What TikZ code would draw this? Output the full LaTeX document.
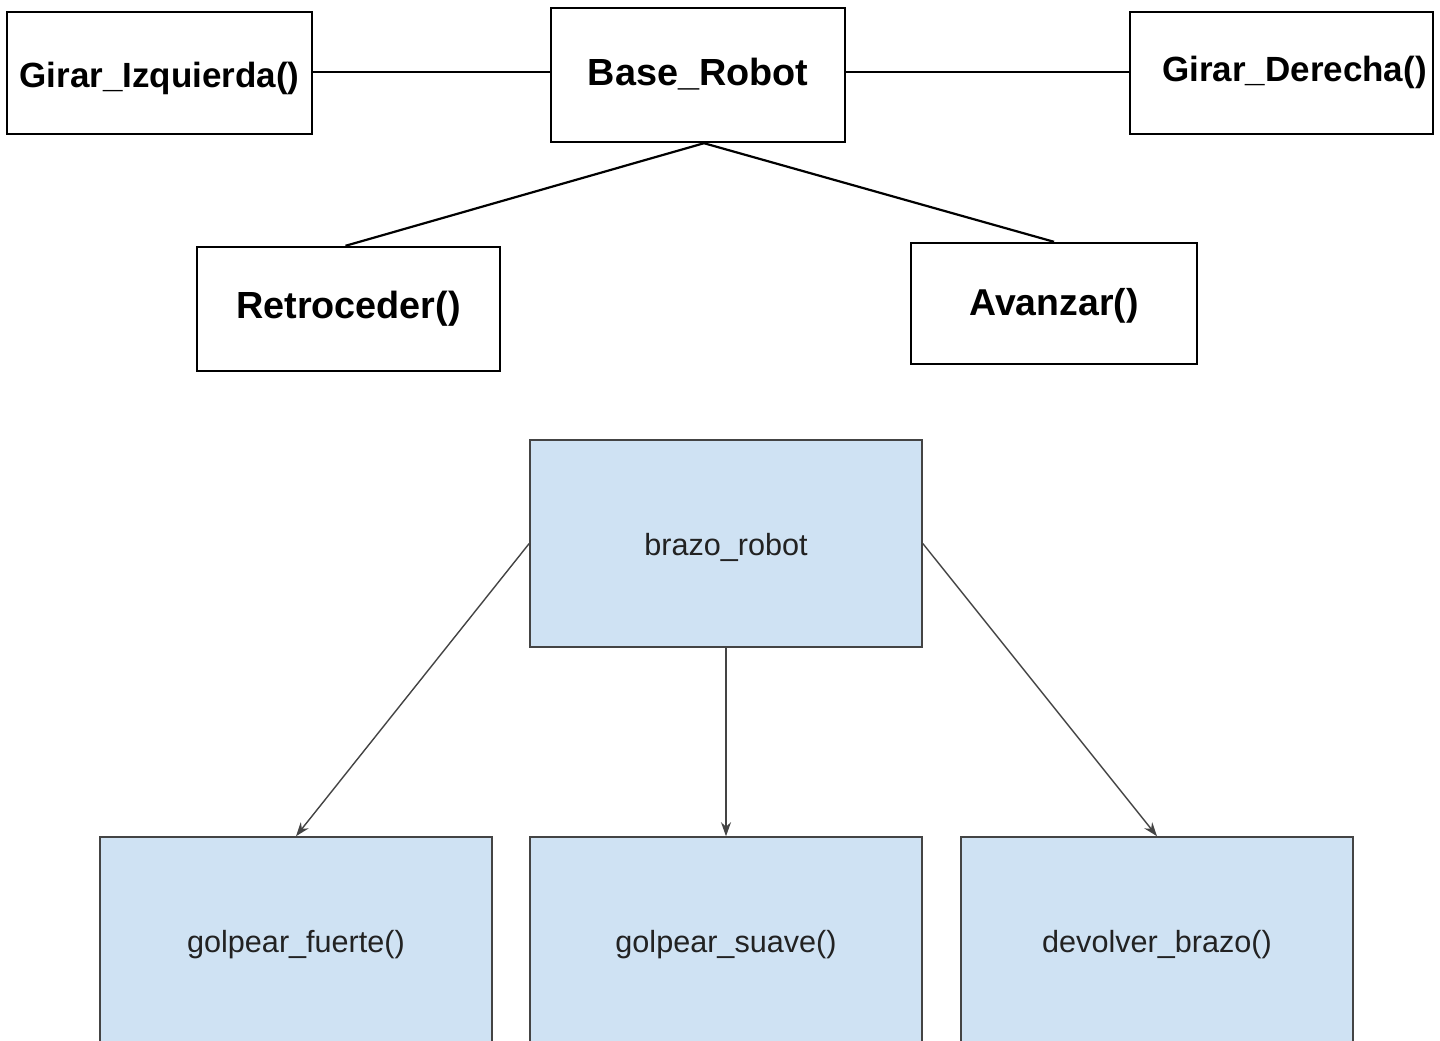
\documentclass[tikz,border=0pt]{standalone}
\usepackage{fontspec}
\setmainfont{Liberation Sans}
\usetikzlibrary{arrows.meta}
\definecolor{boxblue}{HTML}{CFE2F3}
\definecolor{edgegrey}{HTML}{444444}
\definecolor{txtdark}{HTML}{222222}
\begin{document}
\begin{tikzpicture}[x=0.5pt,y=-0.5pt,
  topbox/.style={draw=black, line width=1.2pt, fill=white, inner sep=0pt, text depth=0pt, font=\bfseries},
  armbox/.style={draw=edgegrey, line width=0.8pt, fill=boxblue, inner sep=0pt,
     minimum width=196pt, minimum height=103.5pt, text=txtdark, text depth=0pt,
     font=\fontsize{15.3pt}{18pt}\selectfont},
  plain/.style={draw=black, line width=1.1pt},
  arrowline/.style={draw=edgegrey, line width=0.7pt, -{Stealth[length=7pt,width=5pt]}}
]
\useasboundingbox (0,0) rectangle (1440,1040);
\fill[white] (0,0) rectangle (1440,1040);
\clip (0,0) rectangle (1440,1040);

\node[topbox, minimum width=152.5pt, minimum height=61pt, text height=14pt,
      font=\bfseries\fontsize{17.5pt}{20pt}\selectfont] (gi) at (159.5,73) {Girar\_Izquierda()};
\node[topbox, minimum width=147pt, minimum height=67pt, text height=10.7pt,
      font=\bfseries\fontsize{18.9pt}{22pt}\selectfont] (base) at (698,75) {Base\_Robot};
\node[topbox, minimum width=151.5pt, minimum height=61pt, text height=8.7pt,
      font=\bfseries\fontsize{17.5pt}{20pt}\selectfont] (gd) at (1281.5,73) {\hspace*{13pt}Girar\_Derecha()};
\node[topbox, minimum width=151.5pt, minimum height=62pt, text height=9.5pt,
      font=\bfseries\fontsize{18.9pt}{22pt}\selectfont] (ret) at (348.5,309) {Retroceder()};
\node[topbox, minimum width=143pt, minimum height=60.5pt, text height=11.8pt,
      font=\bfseries\fontsize{18.7pt}{22pt}\selectfont] (av) at (1054,303.5) {Avanzar()};

\coordinate (hl) at (0,72);
\coordinate (bs) at ([xshift=3pt]base.south);
\draw[plain] (gi.east |- hl) -- (base.west |- hl);
\draw[plain] (base.east |- hl) -- (gd.west |- hl);
\draw[plain] (bs) -- ([xshift=-1.5pt]ret.north);
\draw[plain] (bs) -- (av.north);

\node[armbox, text height=11.5pt] (brazo) at (726,543.5) {brazo\_robot};
\node[armbox, text height=11.5pt] (fuerte) at (296,940.5) {golpear\_fuerte()};
\node[armbox, text height=11.5pt] (suave) at (726,940.5) {golpear\_suave()};
\node[armbox, text height=11.5pt] (devolver) at (1157,940.5) {devolver\_brazo()};

\draw[arrowline] (brazo.west) -- (fuerte.north);
\draw[arrowline] (brazo.south) -- (suave.north);
\draw[arrowline] (brazo.east) -- (devolver.north);
\end{tikzpicture}
\end{document}
